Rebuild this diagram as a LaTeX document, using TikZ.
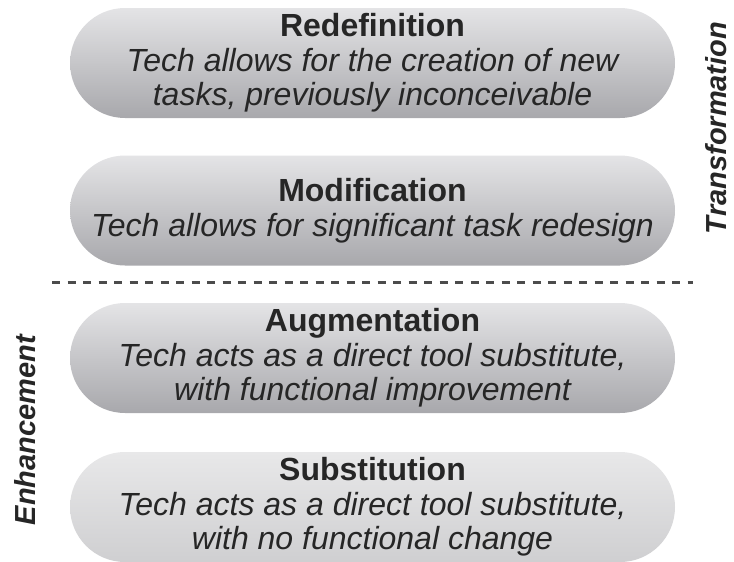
\documentclass[tikz,border=0pt]{standalone}
\usepackage{fontspec}
\setmainfont{Liberation Sans}
\usetikzlibrary{shapes.misc}
\definecolor{pilltop}{HTML}{E4E4E6}
\definecolor{pillbot}{HTML}{A8A8AC}
\definecolor{paletop}{HTML}{E8E8E9}
\definecolor{palebot}{HTML}{CFCFD1}
\begin{document}
\begin{tikzpicture}[
x=1pt,y=-1pt,
pill/.style={rounded rectangle,minimum width=605pt,minimum height=110pt,inner sep=0pt,
  top color=pilltop,bottom color=pillbot,align=center,text=black!85,
  font=\fontsize{32}{34.5}\selectfont},
palepill/.style={pill,top color=paletop,bottom color=palebot},
sep/.style={draw,line width=3pt,color=black!70,dash pattern=on 8pt off 7.5pt},
side/.style={text=black!85,font=\fontsize{29}{34}\selectfont\bfseries\itshape},
]
\useasboundingbox (0,0) rectangle (734,562);

\node[pill] (redef) at (372.5,63) {{\bfseries Redefinition}\\
	{\itshape Tech allows for the creation of new}\\
	{\itshape tasks, previously inconceivable}};

\node[pill] (modif) at (372.5,210.5) {{\bfseries Modification}\\
	{\itshape Tech allows for significant task redesign}};

\node[pill] (augm) at (372.5,358) {{\bfseries Augmentation}\\
	{\itshape Tech acts as a direct tool substitute,}\\
	{\itshape with functional improvement}};

\node[palepill] (subst) at (372.5,507) {{\bfseries Substitution}\\
	{\itshape Tech acts as a direct tool substitute,}\\
	{\itshape with no functional change}};

%separator
\coordinate (sepl) at (52,282);
\coordinate (sepr) at (693,282);
\path[sep] (sepl) -- (sepr);

%levels
\node[side,rotate=90] (trans) at (716,128) {Transformation};
\node[side,rotate=90] (enh) at (25,430) {Enhancement};

\end{tikzpicture}
\end{document}
